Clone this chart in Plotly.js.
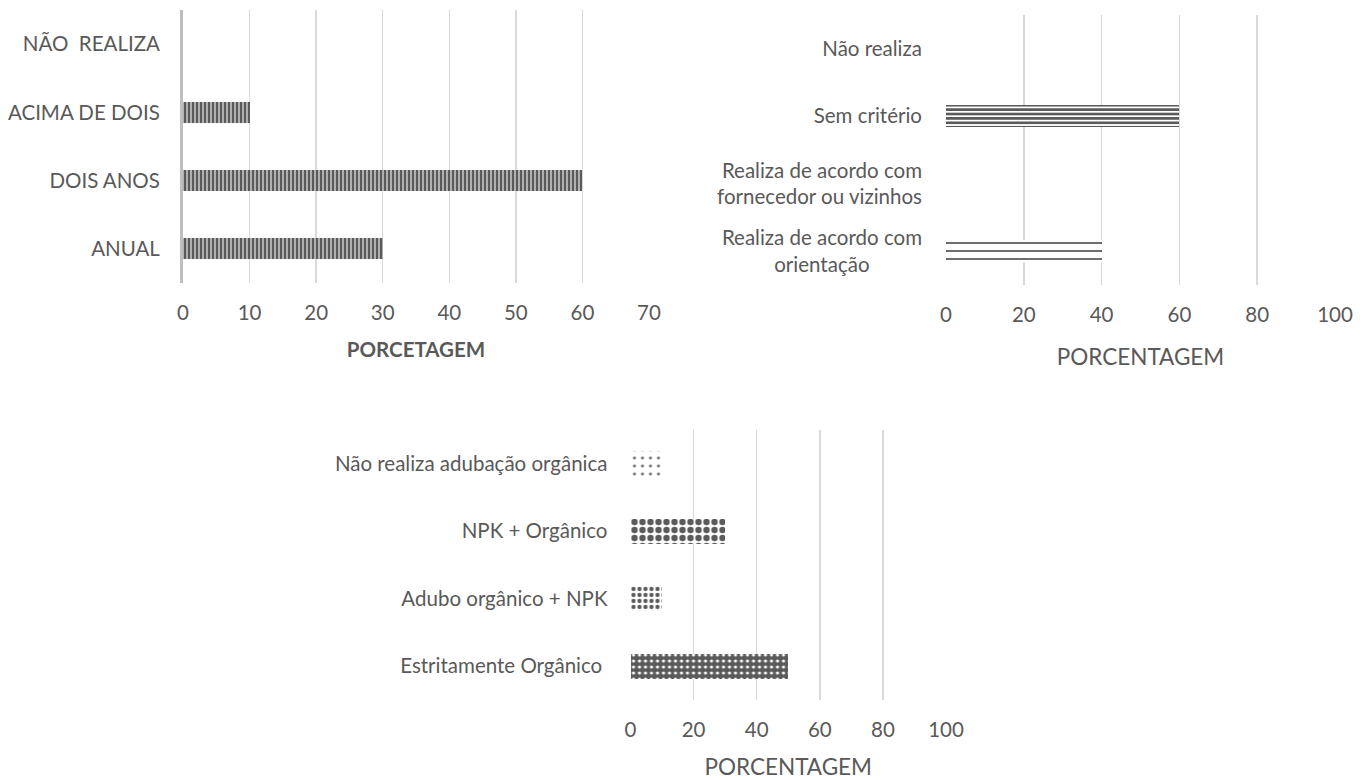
<!DOCTYPE html>
<html>
<head>
<meta charset="utf-8">
<script src="https://cdn.plot.ly/plotly-3.0.1.min.js"></script>
<style>html,body{margin:0;padding:0;background:#fff;}#chart{width:1368px;height:780px;}</style>
</head>
<body>
<div id="chart"></div>
<script>
// Chart 1 (top-left): periodicidade
const cat1 = ['ANUAL', 'DOIS ANOS', 'ACIMA DE DOIS', 'NÃO\u00a0 REALIZA'];
const val1 = [30, 60, 10, 0];
const ticks1 = [0, 10, 20, 30, 40, 50, 60, 70];
const title1 = 'PORCETAGEM';

// Chart 2 (top-right): critério
const nb = '\u00a0'.repeat(10);
const cat2 = ['Realiza de acordo com<br>orientação' + nb, 'Realiza de acordo com<br>fornecedor ou vizinhos', 'Sem critério', 'Não realiza'];
const val2 = [40, 0, 60, 0];
const ticks2 = [0, 20, 40, 60, 80, 100];
const title2 = 'PORCENTAGEM';

// Chart 3 (bottom): adubação
const cat3 = ['Estritamente Orgânico\u00a0', 'Adubo orgânico + NPK', 'NPK + Orgânico', 'Não realiza adubação orgânica'];
const val3 = [50, 10, 30, 10];
const ticks3 = [0, 20, 40, 60, 80, 100];
const title3 = 'PORCENTAGEM';

const TXT = '#595959';
const GRID = '#d9d9d9';
const FONT = 'Lato, "Open Sans", sans-serif';

const traces = [
  {
    type: 'bar', orientation: 'h', y: cat1, x: val1, xaxis: 'x', yaxis: 'y', width: 0.31,
    marker: {color: '#a6a6a6', line: {width: 0},
      pattern: {shape: '|', fgcolor: '#5a5a5a', bgcolor: '#b0b0b0', size: 4, solidity: 0.5, fillmode: 'replace'}},
    hoverinfo: 'x+y', showlegend: false
  },
  {
    type: 'bar', orientation: 'h', y: cat2, x: val2, xaxis: 'x2', yaxis: 'y2', width: 0.33,
    marker: {color: '#ffffff', line: {width: 0},
      pattern: {shape: '-', fgcolor: '#5a5a5a', bgcolor: '#ffffff',
        size: [8, 8, 4.4, 8], solidity: [0.22, 0.22, 0.6, 0.22], fillmode: 'replace'}},
    hoverinfo: 'x+y', showlegend: false
  },
  {
    type: 'bar', orientation: 'h', y: cat3, x: val3, xaxis: 'x3', yaxis: 'y3', width: 0.37,
    marker: {color: '#ffffff', line: {width: 0},
      pattern: {shape: ['.', '.', '.', '.'],
        fgcolor: ['#ffffff', '#5a5a5a', '#5a5a5a', '#6a6a6a'],
        bgcolor: ['#5a5a5a', '#ffffff', '#ffffff', '#ffffff'],
        size: [6, 6, 8, 8], solidity: [0.22, 0.4, 0.5, 0.1], fillmode: 'replace'}},
    hoverinfo: 'x+y', showlegend: false
  }
];

function xax(domain, range, ticks, title, bold, titleSize, standoff) {
  return {
    domain: domain, range: range, anchor: undefined,
    tickvals: ticks, ticktext: ticks.map(String),
    showgrid: true, gridcolor: GRID, gridwidth: 1.5, zeroline: false, showline: false,
    ticks: '', ticklabelstandoff: 15,
    tickfont: {family: FONT, size: 20.5, color: TXT},
    title: {text: bold ? '<b>' + title + '</b>' : title, font: {family: FONT, size: titleSize, color: TXT}, standoff: standoff},
    fixedrange: true
  };
}
function yax(domain, showline, standoff) {
  return {
    domain: domain, range: [-0.5, 3.5], type: 'category',
    showgrid: false, zeroline: false,
    showline: showline, linecolor: '#bfbfbf', linewidth: 3,
    ticks: '', ticklabelstandoff: standoff,
    tickfont: {family: FONT, size: 20.5, color: TXT},
    fixedrange: true
  };
}

const x1 = xax([183/1368, 649/1368], [0, 70], ticks1, title1, true, 20.5, 20); x1.anchor = 'y';
const x2 = xax([946/1368, 1335/1368], [0, 100], ticks2, title2, false, 22.5, 24); x2.anchor = 'y2';
const x3 = xax([630.5/1368, 946/1368], [0, 100], ticks3, title3, false, 22.5, 22); x3.anchor = 'y3';
const y1 = yax([(780-283)/780, (780-10)/780], true, 16); y1.anchor = 'x';
const y2 = yax([(780-285)/780, (780-15)/780], false, 23); y2.anchor = 'x2';
const y3 = yax([(780-700)/780, (780-430)/780], false, 22); y3.anchor = 'x3';

const layout = {
  width: 1368, height: 780,
  margin: {l: 0, r: 0, t: 0, b: 0},
  paper_bgcolor: '#ffffff', plot_bgcolor: 'rgba(0,0,0,0)',
  font: {family: FONT, color: TXT},
  bargap: 0,
  xaxis: x1, yaxis: y1,
  xaxis2: x2, yaxis2: y2,
  xaxis3: x3, yaxis3: y3,
  showlegend: false
};

Plotly.newPlot('chart', traces, layout, {displayModeBar: false, staticPlot: true});
</script>
</body>
</html>
